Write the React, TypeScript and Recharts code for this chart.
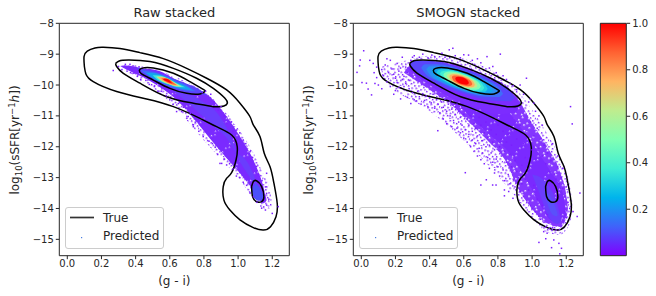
import { Area, Bar, ComposedChart, Legend, Line, ReferenceArea, Scatter, XAxis, YAxis } from "recharts";

type Row = [number, number, number];
type Dot = [number, number];

const xTicks = [0, 0.2, 0.4, 0.6, 0.8, 1.0, 1.2];
const yTicks = [-8, -9, -10, -11, -12, -13, -14, -15];
const barTicks = [0.2, 0.4, 0.6, 0.8, 1.0];
const legendLabels = ["True", "Predicted"];

// True contours, same in both panels
const contourOuter: Dot[] = [
  [0.1, -9.4], [0.098, -9.08], [0.117, -8.9], [0.162, -8.8], [0.211, -8.78], [0.308, -8.82], [0.425, -8.95],
  [0.562, -9.145], [0.699, -9.46], [0.816, -9.78], [0.933, -10.16], [1.011, -10.59], [1.069, -11.02], [1.089, -11.29],
  [1.128, -11.67], [1.153, -12.21], [1.187, -12.65], [1.21, -13.19], [1.229, -13.83], [1.222, -14.27], [1.19, -14.59],
  [1.148, -14.7], [1.089, -14.62], [1.011, -14.37], [0.952, -14.05], [0.917, -13.73], [0.913, -13.29], [0.933, -13.02],
  [0.962, -12.84], [0.988, -12.43], [0.995, -12.0], [0.962, -11.62], [0.874, -11.35], [0.777, -11.08], [0.621, -10.7],
  [0.464, -10.45], [0.289, -10.21], [0.152, -9.89], [0.109, -9.64], [0.1, -9.4],
];
const contourMiddle: Dot[] = [
  [0.283, -9.3], [0.304, -9.22], [0.357, -9.19], [0.484, -9.24], [0.621, -9.46], [0.757, -9.78], [0.855, -10.11],
  [0.923, -10.43], [0.937, -10.59], [0.917, -10.68], [0.855, -10.7], [0.738, -10.59], [0.582, -10.38], [0.425, -9.94],
  [0.328, -9.62], [0.289, -9.4], [0.283, -9.3],
];
const contourInner: Dot[] = [
  [0.4215, -9.53], [0.435, -9.46], [0.5035, -9.45], [0.621, -9.62], [0.718, -9.89], [0.796, -10.14], [0.806, -10.21],
  [0.777, -10.29], [0.699, -10.27], [0.601, -10.11], [0.5035, -9.84], [0.435, -9.64], [0.4215, -9.53],
];
const contourSmall: Dot[] = [
  [1.079, -13.29], [1.089, -13.13], [1.108, -13.1], [1.138, -13.29], [1.151, -13.62], [1.138, -13.78], [1.108, -13.78],
  [1.085, -13.62], [1.079, -13.29],
];
const contours = [contourOuter, contourMiddle, contourInner, contourSmall];

// Raw panel: density levels as [x, low, high]
const rawFringe: Row[] = [[0.33, -9.42, -9.35], [0.4, -9.75, -9.35], [0.5, -10.1, -9.45], [0.6, -10.55, -9.65], [0.7, -11.15, -9.9], [0.8, -11.8, -10.2], [0.9, -12.4, -10.7], [1.0, -13.0, -11.4], [1.08, -13.6, -12.1], [1.15, -14.0, -12.9], [1.19, -14.0, -13.5], [1.2, -13.9, -13.9]];
const rawBody: Row[] = [[0.31, -9.38, -9.38], [0.338, -9.47, -9.37], [0.445, -9.75, -9.46], [0.543, -10.07, -9.55], [0.64, -10.48, -9.84], [0.738, -11.08, -10.07], [0.835, -11.73, -10.38], [0.933, -12.37, -11.02], [1.011, -12.86, -11.67], [1.089, -13.4, -12.43], [1.148, -13.83, -13.29], [1.167, -13.73, -13.73]];
const rawRidge: Row[] = [[0.62, -10.2, -10.2], [0.7, -10.55, -10.25], [0.78, -10.95, -10.5], [0.86, -11.35, -10.8], [0.93, -11.7, -11.35], [1.0, -12.3, -12.3]];
const rawLow: Row[] = [[0.98, -12.2, -12.2], [1.04, -12.75, -12.4], [1.09, -13.15, -12.9], [1.12, -13.4, -13.4]];
const rawBlob: Row[] = [[1.08, -13.45, -13.45], [1.1, -13.7, -13.2], [1.13, -13.75, -13.35], [1.15, -13.6, -13.6]];
const rawA: Row[] = [[0.4, -9.43, -9.43], [0.46, -9.7, -9.5], [0.52, -9.89, -9.57], [0.58, -10.06, -9.7], [0.64, -10.17, -9.83], [0.7, -10.24, -9.96], [0.76, -10.3, -10.1], [0.82, -10.33, -10.33]];
const rawB: Row[] = [[0.43, -9.52, -9.52], [0.48, -9.72, -9.56], [0.53, -9.88, -9.62], [0.59, -10.02, -9.74], [0.64, -10.12, -9.88], [0.69, -10.18, -9.98], [0.75, -10.2, -10.2]];
const rawC: Row[] = [[0.46, -9.6, -9.6], [0.5, -9.77, -9.61], [0.55, -9.9, -9.68], [0.59, -9.99, -9.77], [0.64, -10.08, -9.92], [0.68, -10.14, -10.0], [0.73, -10.16, -10.16]];
const rawD: Row[] = [[0.5, -9.68, -9.68], [0.54, -9.87, -9.69], [0.59, -9.97, -9.79], [0.64, -10.06, -9.94], [0.69, -10.07, -10.07]];
const rawE: Row[] = [[0.52, -9.72, -9.72], [0.55, -9.86, -9.72], [0.59, -9.96, -9.8], [0.63, -10.03, -9.93], [0.67, -10.05, -10.05]];
const rawG: Row[] = [[0.53, -9.75, -9.75], [0.56, -9.87, -9.75], [0.59, -9.95, -9.81], [0.63, -10.02, -9.94], [0.65, -10.02, -10.02]];
const rawH: Row[] = [[0.55, -9.79, -9.79], [0.57, -9.87, -9.77], [0.6, -9.95, -9.83], [0.62, -9.98, -9.92], [0.64, -10.0, -10.0]];
const rawI: Row[] = [[0.56, -9.81, -9.81], [0.58, -9.88, -9.8], [0.6, -9.93, -9.85], [0.615, -9.95, -9.95]];
const rawLevels = [rawFringe, rawBody, rawRidge, rawLow, rawBlob, rawA, rawB, rawC, rawD, rawE, rawG, rawH, rawI];
const rawColors = ["url(#speckSparse)", "url(#speckDense)", "#6a3dfd", "#6a3dfd", "#4a50fb", "#5a45fc", "#3f6dfa", "#12a6ee", "#40ecd4", "#bfec8e", "#ffb462", "#ff6232", "#ff0000"];

const rawDots: Dot[] = [
  [0.269, -9.53], [0.3, -9.4], [0.32, -9.5], [0.34, -9.33], [0.367, -9.33], [0.35, -9.55], [0.37, -9.6], [0.385, -9.38], [0.39, -9.62], [0.41, -9.72],
  [0.42, -9.41], [0.43, -9.82], [0.46, -9.85], [0.48, -9.98], [0.51, -10.05], [0.53, -10.2], [0.55, -10.2], [0.58, -10.35], [0.6, -10.48], [0.62, -10.62],
  [0.64, -10.86], [0.65, -10.6], [0.669, -10.86], [0.68, -10.72], [0.7, -11.08], [0.708, -11.02], [0.72, -10.92], [0.738, -11.35], [0.738, -11.29], [0.75, -11.2],
  [0.77, -11.5], [0.78, -11.3], [0.796, -11.67], [0.81, -11.5], [0.83, -11.82], [0.85, -11.9], [0.866, -12.02], [0.88, -12.25], [0.894, -12.54], [0.904, -12.54],
  [0.92, -12.4], [0.933, -12.59], [0.95, -12.55], [0.97, -12.72], [0.99, -12.95], [1.01, -13.0], [1.03, -13.15], [1.05, -13.25], [1.07, -13.5], [1.09, -13.62],
  [1.11, -13.8], [0.79, -10.25], [0.81, -10.2], [0.84, -10.3], [0.86, -10.55], [0.884, -10.81], [0.9, -10.7], [0.92, -11.0], [0.933, -11.24], [0.96, -11.2],
  [0.97, -11.5], [0.991, -11.46], [1.01, -11.55], [1.03, -11.78], [1.045, -11.9], [1.07, -12.16], [1.085, -12.35], [1.108, -12.64], [1.12, -12.9], [1.14, -13.1],
  [1.167, -12.86], [1.16, -13.3], [1.167, -13.51], [1.18, -13.7], [1.167, -13.89], [1.138, -13.99], [1.15, -13.95], [1.16, -14.05], [1.235, -13.94], [1.2, -14.16],
];

// SMOGN panel: density levels as [x, low, high]
const smogFringe: Row[] = [[0.12, -9.7, -9.4], [0.2, -10.2, -9.3], [0.3, -10.5, -9.15], [0.4, -10.85, -9.05], [0.5, -11.3, -9.05], [0.6, -11.8, -9.15], [0.7, -12.35, -9.35], [0.8, -12.95, -9.65], [0.9, -13.6, -10.1], [1.0, -14.3, -10.8], [1.08, -14.75, -11.5], [1.16, -14.85, -12.3], [1.22, -14.5, -13.2], [1.24, -14.0, -14.0]];
const smogBody: Row[] = [[0.25, -9.6, -9.6], [0.286, -9.73, -9.35], [0.4, -10.15, -9.22], [0.462, -10.38, -9.24], [0.55, -10.75, -9.3], [0.618, -11.13, -9.42], [0.736, -11.78, -9.7], [0.853, -12.54, -10.05], [0.912, -13.29, -10.4], [0.99, -13.94, -11.15], [1.088, -14.48, -12.0], [1.166, -14.6, -12.86], [1.205, -14.2, -13.73], [1.21, -14.0, -14.0]];
const smogCore: Row[] = [[0.55, -10.5, -10.5], [0.65, -11.1, -10.2], [0.75, -11.6, -10.4], [0.85, -12.1, -10.8], [0.95, -12.9, -11.5], [1.05, -13.9, -12.3], [1.12, -14.4, -12.9], [1.18, -14.35, -13.5], [1.2, -14.2, -14.2]];
const smogDense: Row[] = [[0.27, -9.45, -9.45], [0.32, -9.7, -9.3], [0.4, -10.0, -9.25], [0.5, -10.35, -9.32], [0.6, -10.6, -9.45], [0.7, -10.8, -9.7], [0.8, -10.95, -10.0], [0.9, -10.9, -10.4], [0.93, -10.6, -10.6]];
const smogRidgeB: Row[] = [[1.0, -12.9, -12.9], [1.05, -13.6, -13.0], [1.1, -14.3, -13.3], [1.15, -14.5, -13.9], [1.17, -14.4, -14.4]];
const smogRidgeC: Row[] = [[1.07, -13.45, -13.45], [1.09, -13.85, -13.5], [1.12, -14.2, -13.75], [1.145, -14.25, -14.1], [1.15, -14.2, -14.2]];
const smogA: Row[] = [[0.28, -9.33, -9.33], [0.311, -9.546, -9.194], [0.404, -9.85, -9.21], [0.59, -10.26, -9.46], [0.776, -10.51, -9.87], [0.869, -10.526, -10.174], [0.9, -10.41, -10.41]];
const smogB: Row[] = [[0.35, -9.44, -9.44], [0.374, -9.63, -9.33], [0.446, -9.87, -9.33], [0.59, -10.2, -9.52], [0.734, -10.38, -9.84], [0.806, -10.39, -10.09], [0.83, -10.28, -10.28]];
const smogBC: Row[] = [[0.38, -9.49, -9.49], [0.401, -9.666, -9.394], [0.464, -9.888, -9.392], [0.59, -10.17, -9.55], [0.716, -10.328, -9.832], [0.779, -10.326, -10.054], [0.8, -10.23, -10.23]];
const smogC: Row[] = [[0.41, -9.55, -9.55], [0.428, -9.698, -9.452], [0.482, -9.894, -9.446], [0.59, -10.14, -9.58], [0.698, -10.274, -9.826], [0.752, -10.268, -10.022], [0.77, -10.18, -10.18]];
const smogC2: Row[] = [[0.44, -9.6, -9.6], [0.455, -9.734, -9.506], [0.5, -9.908, -9.492], [0.59, -10.12, -9.6], [0.68, -10.228, -9.812], [0.725, -10.214, -9.986], [0.74, -10.12, -10.12]];
const smogD: Row[] = [[0.46, -9.63, -9.63], [0.473, -9.766, -9.554], [0.512, -9.912, -9.528], [0.59, -10.1, -9.62], [0.668, -10.192, -9.808], [0.707, -10.176, -9.964], [0.72, -10.09, -10.09]];
const smogE: Row[] = [[0.48, -9.67, -9.67], [0.491, -9.787, -9.593], [0.524, -9.916, -9.564], [0.59, -10.08, -9.64], [0.656, -10.156, -9.804], [0.689, -10.127, -9.933], [0.7, -10.05, -10.05]];
const smogF: Row[] = [[0.5, -9.7, -9.7], [0.509, -9.804, -9.636], [0.536, -9.917, -9.613], [0.59, -10.05, -9.67], [0.644, -10.107, -9.803], [0.671, -10.084, -9.916], [0.68, -10.02, -10.02]];
const smogG: Row[] = [[0.515, -9.73, -9.73], [0.5225, -9.815, -9.665], [0.545, -9.916, -9.644], [0.59, -10.03, -9.69], [0.635, -10.076, -9.804], [0.6575, -10.055, -9.905], [0.665, -9.99, -9.99]];
const smogH: Row[] = [[0.53, -9.75, -9.75], [0.536, -9.827, -9.703], [0.554, -9.912, -9.688], [0.59, -10.0, -9.72], [0.626, -10.037, -9.813], [0.644, -10.017, -9.893], [0.65, -9.97, -9.97]];
const smogI: Row[] = [[0.55, -9.79, -9.79], [0.554, -9.848, -9.752], [0.566, -9.908, -9.732], [0.59, -9.97, -9.75], [0.614, -9.988, -9.812], [0.626, -9.973, -9.877], [0.63, -9.93, -9.93]];
const smogLevels = [smogFringe, smogBody, smogCore, smogDense, smogRidgeB, smogRidgeC, smogA, smogB, smogBC, smogC, smogC2, smogD, smogE, smogF, smogG, smogH, smogI];
const smogColors = ["url(#speckSparse)", "url(#speckMid)", "url(#speckDense)", "#7c2cff", "#6a3dfd", "#5a50fb", "#5a45fc", "#3f6dfa", "#2a90f2", "#12a6ee", "#22cfe0", "#40ecd4", "#80ffb4", "#bfec8e", "#ffb462", "#ff6232", "#ff0000"];

const smogDots: Dot[] = [
  [0.014, -8.89], [-0.006, -9.19], [-0.025, -9.59], [-0.01, -9.38], [0.004, -9.92], [0.03, -9.94], [0.04, -10.13], [0.06, -10.32], [0.05, -9.2], [0.07, -9.3],
  [0.075, -9.6], [0.09, -9.76], [0.1, -10.0], [0.12, -9.5], [0.13, -9.7], [0.14, -9.35], [0.15, -9.9], [0.16, -9.6], [0.17, -9.2], [0.18, -9.48],
  [0.19, -10.3], [0.2, -9.78], [0.21, -9.3], [0.22, -9.55], [0.23, -10.45], [0.24, -9.1], [0.25, -9.72], [0.25, -10.05], [0.26, -9.42], [0.27, -10.4],
  [0.28, -9.85], [0.29, -10.6], [0.3, -9.1], [0.32, -10.52], [0.19, -9.65], [0.21, -9.92], [0.23, -9.45], [0.24, -9.82], [0.26, -9.95], [0.27, -9.6],
  [0.28, -10.12], [0.22, -10.08], [0.17, -10.05], [0.12, -10.12], [0.08, -9.95], [0.2, -10.18], [0.15, -9.15], [0.09, -9.42], [0.29, -9.2], [0.31, -9.05],
  [0.34, -9.1], [0.36, -9.0], [0.39, -9.12], [0.413, -9.03], [0.43, -9.08], [0.472, -8.97], [0.49, -9.1], [0.515, -8.86], [0.536, -8.81], [0.55, -9.05],
  [0.58, -9.12], [0.6, -9.02], [0.628, -9.03], [0.65, -9.2], [0.68, -9.15], [0.7, -9.28], [0.736, -9.08], [0.75, -9.45], [0.77, -9.4], [0.79, -9.6],
  [0.814, -9.0], [0.83, -9.7], [0.85, -9.82], [0.87, -9.95], [0.89, -10.02], [0.91, -10.15], [0.93, -10.0], [0.95, -10.3], [0.967, -9.78], [0.98, -10.55],
  [0.99, -10.45], [1.01, -10.59], [1.02, -10.85], [1.04, -11.0], [1.06, -11.3], [1.225, -10.7], [1.235, -11.26], [1.12, -11.9], [1.15, -12.3], [1.18, -12.7],
  [0.3, -10.25], [0.31, -10.48], [0.33, -10.2], [0.34, -10.38], [0.35, -10.62], [0.36, -10.28], [0.37, -10.5], [0.38, -10.35], [0.39, -10.7], [0.4, -10.42],
  [0.41, -10.58], [0.42, -10.3], [0.43, -10.75], [0.44, -10.48], [0.448, -11.48], [0.45, -10.62], [0.46, -10.38], [0.46, -10.9], [0.47, -10.55], [0.48, -10.72],
  [0.48, -11.1], [0.49, -10.46], [0.5, -10.85], [0.5, -11.25], [0.51, -10.62], [0.52, -11.0], [0.52, -10.52], [0.53, -10.78], [0.53, -11.35], [0.54, -11.15],
  [0.55, -10.7], [0.55, -10.95], [0.56, -11.4], [0.56, -10.62], [0.57, -11.2], [0.57, -10.85], [0.58, -11.55], [0.58, -11.05], [0.59, -10.75], [0.59, -11.3],
  [0.6, -11.72], [0.6, -10.95], [0.61, -11.45], [0.609, -12.84], [0.62, -11.1], [0.62, -11.85], [0.63, -11.6], [0.63, -11.3], [0.64, -12.0], [0.64, -11.0],
  [0.65, -11.5], [0.65, -11.78], [0.66, -12.15], [0.66, -11.25], [0.67, -11.9], [0.67, -11.4], [0.68, -12.3], [0.68, -11.65], [0.69, -11.05], [0.69, -12.05],
  [0.7, -12.42], [0.7, -11.3], [0.71, -11.8], [0.71, -12.2], [0.72, -11.55], [0.72, -12.55], [0.73, -12.0], [0.73, -11.2], [0.74, -12.35], [0.74, -11.7],
  [0.75, -12.7], [0.75, -11.95], [0.76, -12.2], [0.76, -11.45], [0.77, -12.5], [0.77, -11.85], [0.78, -12.85], [0.78, -12.1], [0.79, -11.6], [0.79, -12.4],
  [0.8, -12.65], [0.8, -11.3], [0.81, -12.95], [0.81, -12.0], [0.82, -12.3], [0.82, -11.75], [0.83, -12.75], [0.83, -11.5], [0.84, -13.1], [0.84, -12.15],
  [0.85, -12.5], [0.85, -11.85], [0.86, -12.9], [0.86, -11.6], [0.87, -13.2], [0.87, -12.25], [0.88, -12.65], [0.88, -11.95], [0.89, -13.05], [0.89, -11.45],
  [0.9, -12.45], [0.9, -13.3], [0.91, -12.8], [0.91, -11.75], [0.92, -13.0], [0.92, -12.1], [0.93, -13.45], [0.93, -11.3], [0.94, -12.6], [0.94, -13.2],
  [0.95, -11.9], [0.95, -13.6], [0.96, -12.35], [0.96, -13.05], [0.97, -11.55], [0.97, -13.75], [0.98, -12.8], [0.98, -13.4], [0.99, -11.2], [0.99, -13.9],
  [1.0, -12.1], [1.0, -14.0], [1.01, -13.25], [1.01, -11.65], [1.02, -14.1], [1.02, -12.4], [1.03, -11.4], [1.03, -13.7], [1.04, -14.25], [1.04, -12.05],
  [1.05, -11.75], [1.05, -14.35], [1.06, -12.3], [1.06, -13.9], [1.07, -11.95], [1.07, -14.45], [1.08, -12.55], [1.08, -14.6], [1.09, -12.2], [1.09, -14.2],
  [1.1, -12.8], [1.1, -14.65], [1.11, -12.45], [1.12, -14.62], [1.13, -12.9], [1.14, -13.05], [1.15, -12.65], [1.16, -13.2], [1.17, -13.0], [1.18, -13.35],
  [1.19, -13.6], [1.2, -13.3], [1.21, -13.8], [1.19, -14.1], [1.22, -14.0], [1.18, -14.4], [1.2, -14.3], [1.16, -14.68], [1.14, -14.7], [1.264, -14.26],
  [1.24, -14.1], [1.28, -13.5], [1.04, -15.1], [1.08, -14.98], [1.114, -15.27], [1.127, -15.02], [1.157, -15.13], [1.172, -15.29], [1.162, -15.47], [1.068, -14.75],
  [1.088, -14.8], [1.118, -14.69], [0.7, -13.24], [0.732, -13.07], [0.769, -13.24], [0.789, -13.24], [0.838, -13.4], [0.838, -13.59], [0.863, -13.45], [0.888, -13.67],
];

const barData = [{ name: "v", value: 1 }];
const barStops = [
  { at: 0, color: "#ff0000" }, { at: 0.125, color: "#ff6232" }, { at: 0.25, color: "#ffb462" }, { at: 0.375, color: "#bfec8e" },
  { at: 0.5, color: "#80ffb4" }, { at: 0.625, color: "#40ecd4" }, { at: 0.75, color: "#00b4ec" }, { at: 0.875, color: "#4062fa" }, { at: 1, color: "#8000ff" },
];

const FONT = "'DejaVu Sans'";
const INK = "#262626";
const PURPLE = "#7b1fff";
const minus = (v: number) => String(v).replace("-", "\u2212");

// speckle texture for the sparse parts of the clouds
const speckGrid = [
  [1, 2], [5, 1], [9, 3], [13, 1], [17, 2], [3, 5], [7, 6], [11, 5], [15, 6], [18, 8], [1, 8], [5, 9],
  [9, 8], [13, 9], [16, 11], [3, 11], [7, 12], [11, 11], [14, 14], [18, 13], [1, 14], [5, 15], [9, 14], [12, 16],
];

function SpeckleDefs() {
  return (
    <defs>
      <pattern id="speckSparse" width={19} height={17} patternUnits="userSpaceOnUse" patternTransform="rotate(17)">
        {speckGrid.map(([x, y]) => (
          <rect key={`${x}-${y}`} x={x} y={y} width={1.5} height={1.5} fill={PURPLE} />
        ))}
      </pattern>
      <pattern id="speckMid" width={19} height={17} patternUnits="userSpaceOnUse" patternTransform="rotate(29)">
        <rect width={19} height={17} fill="#8436ff" />
        {speckGrid.filter((_, i) => i % 2 === 0).map(([x, y]) => (
          <rect key={`${x}-${y}`} x={x} y={y} width={1.5} height={1.5} fill="#fff" />
        ))}
      </pattern>
      <pattern id="speckDense" width={19} height={17} patternUnits="userSpaceOnUse" patternTransform="rotate(41)">
        <rect width={19} height={17} fill="#7a2aff" />
        {speckGrid.filter((_, i) => i % 5 === 0).map(([x, y]) => (
          <rect key={`${x}-${y}`} x={x} y={y} width={1.3} height={1.3} fill="#dcc8ff" />
        ))}
      </pattern>
    </defs>
  );
}

function PanelLegend() {
  return (
    <div style={{ position: "relative", width: 99, height: 42, boxSizing: "border-box", border: "1px solid #ccc", borderRadius: 3, background: "rgba(255,255,255,0.8)", fontFamily: FONT, fontSize: 12, color: INK }}>
      <svg width={99} height={42} style={{ position: "absolute", left: -1, top: -1 }}>
        <line x1={5} x2={29} y1={10.5} y2={10.5} stroke="#333" strokeWidth={1.7} />
        <rect x={16} y={30} width={1.2} height={1.2} fill="#4a7fe0" />
      </svg>
      <span style={{ position: "absolute", left: 37, top: 3 }}>{legendLabels[0]}</span>
      <span style={{ position: "absolute", left: 37, top: 21 }}>{legendLabels[1]}</span>
    </div>
  );
}

function YLabel({ x }: { x: number }) {
  return (
    <text transform={`translate(${x},140) rotate(-90)`} textAnchor="middle" fontFamily={FONT} fontSize={12} fill={INK}>
      log<tspan fontSize={8.5} dy={3}>10</tspan>
      <tspan dy={-3}>(sSFR[yr</tspan>
      <tspan fontSize={8.5} dy={-4}>{"\u2212"}1</tspan>
      <tspan dy={4} fontStyle="italic">h</tspan>
      <tspan>])</tspan>
    </text>
  );
}

function Panel({ title, levels, colors, dots }: { title: string; levels: Row[][]; colors: string[]; dots: Dot[] }) {
  return (
    <ComposedChart width={310} height={296} margin={{ top: 23.3, right: 20.7, bottom: 0.3, left: 0 }}>
      <SpeckleDefs />
      <XAxis
        type="number"
        dataKey="x"
        domain={[-0.0468, 1.2998]}
        allowDataOverflow
        ticks={xTicks}
        tickFormatter={(v: number) => v.toFixed(1)}
        height={40}
        tickSize={3.5}
        tickMargin={1}
        tick={{ fill: INK, fontSize: 10, fontFamily: FONT }}
        stroke={INK}
        tickLine={{ stroke: INK }}
        axisLine={false}
        label={{ value: "(g - i)", position: "insideBottom", offset: 11, fill: INK, fontSize: 12, fontFamily: FONT }}
      />
      <YAxis
        type="number"
        dataKey="y"
        domain={[-15.53, -8]}
        allowDataOverflow
        ticks={yTicks}
        tickFormatter={minus}
        width={59.3}
        tickSize={3.5}
        tickMargin={2}
        tick={{ fill: INK, fontSize: 10, fontFamily: FONT }}
        tickLine={{ stroke: INK }}
        axisLine={false}
      />
      {levels.map((rows, i) => (
        <Area
          key={i}
          data={rows.map(([x, low, high]) => ({ x, range: [low, high] }))}
          dataKey="range"
          type="monotone"
          fill={colors[i]}
          fillOpacity={1}
          stroke="none"
          dot={false}
          activeDot={false}
          isAnimationActive={false}
        />
      ))}
      <Scatter
        data={dots.map(([x, y]) => ({ x, y }))}
        isAnimationActive={false}
        shape={(p: any) => <rect x={p.cx - 0.75} y={p.cy - 0.75} width={1.5} height={1.5} fill={PURPLE} />}
      />
      {contours.map((pts, i) => (
        <Line
          key={i}
          data={pts.map(([x, y]) => ({ x, y }))}
          dataKey="y"
          type="natural"
          stroke="#000"
          strokeWidth={1.5}
          dot={false}
          activeDot={false}
          isAnimationActive={false}
        />
      ))}
      <ReferenceArea x1={-0.0468} x2={1.2998} y1={-15.53} y2={-8} fill="none" stroke={INK} strokeWidth={1} />
      <text x={174.3} y={17} textAnchor="middle" fontFamily={FONT} fontSize={13} fill={INK}>{title}</text>
      <YLabel x={19} />
      <Legend
        layout="horizontal"
        verticalAlign="middle"
        align="center"
        content={() => <PanelLegend />}
        wrapperStyle={{ left: 65, top: 207, width: 99, height: 42, bottom: "auto" }}
      />
    </ComposedChart>
  );
}

function ColorBar() {
  return (
    <ComposedChart width={66} height={296} data={barData} margin={{ top: 23.3, right: 0, bottom: 40.3, left: 10.3 }} barCategoryGap={0}>
      <defs>
        <linearGradient id="rainbow" x1="0" y1="0" x2="0" y2="1">
          {barStops.map((s) => (
            <stop key={s.at} offset={s.at} stopColor={s.color} />
          ))}
        </linearGradient>
      </defs>
      <XAxis dataKey="name" hide />
      <YAxis
        orientation="right"
        domain={[0, 1]}
        ticks={barTicks}
        tickFormatter={(v: number) => v.toFixed(1)}
        width={29.3}
        tickSize={3.5}
        tickMargin={2}
        tick={{ fill: INK, fontSize: 10, fontFamily: FONT }}
        tickLine={{ stroke: INK }}
        axisLine={false}
      />
      <Bar dataKey="value" fill="url(#rainbow)" stroke={INK} strokeWidth={1} isAnimationActive={false} />
    </ComposedChart>
  );
}

export default function App() {
  return (
    <div style={{ position: "absolute", left: 0, top: 0, width: 656, height: 296, background: "#fff" }}>
      <div style={{ position: "absolute", left: 0, top: 0 }}>
        <Panel title="Raw stacked" levels={rawLevels} colors={rawColors} dots={rawDots} />
      </div>
      <div style={{ position: "absolute", left: 294, top: 0 }}>
        <Panel title="SMOGN stacked" levels={smogLevels} colors={smogColors} dots={smogDots} />
      </div>
      <div style={{ position: "absolute", left: 590, top: 0 }}>
        <ColorBar />
      </div>
    </div>
  );
}
